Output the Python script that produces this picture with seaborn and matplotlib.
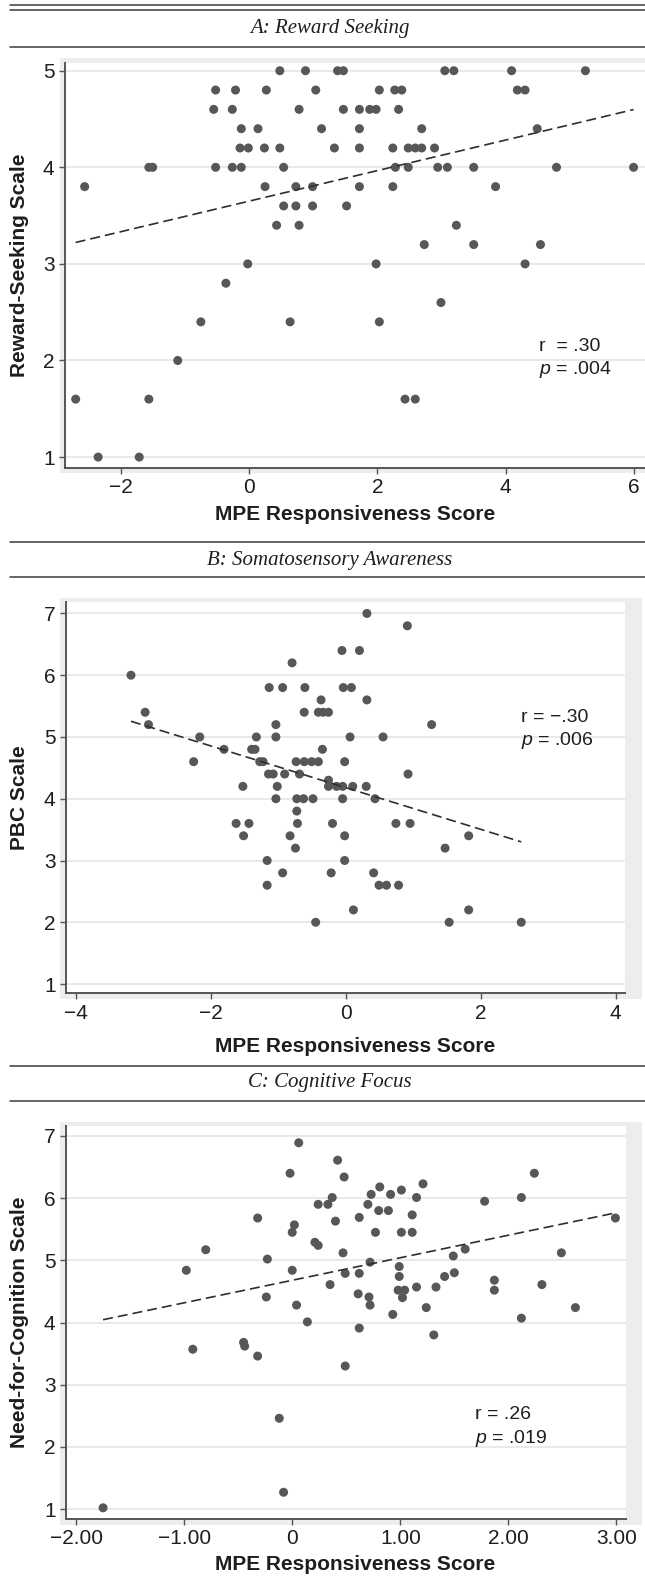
import matplotlib
matplotlib.use("Agg")
import matplotlib.pyplot as plt
import pandas as pd
import seaborn as sns
from matplotlib.lines import Line2D
from matplotlib.patches import Rectangle

# Panel A: reward seeking (one source row per line of the scale)
reward_x = [
    0.48, 0.88, 1.38, 1.47, 3.05, 3.19, 4.09, 5.24,
    -0.52, -0.21, 0.27, 1.04, 2.03, 2.27, 2.38, 4.18, 4.30,
    -0.55, -0.26, 0.78, 1.47, 1.72, 1.88, 1.98, 2.33,
    -0.12, 0.14, 1.13, 1.72, 2.69, 4.49,
    -0.14, -0.01, 0.24, 0.48, 1.33, 1.72, 2.24, 2.48, 2.59, 2.69, 2.89,
    -1.56, -1.50, -0.52, -0.26, -0.12, 0.54, 2.28, 2.48, 2.94, 3.09, 3.50, 4.79, 5.99,
    -2.56, 0.25, 0.73, 0.99, 1.72, 2.24, 3.84,
    0.54, 0.73, 0.99, 1.52,
    0.43, 0.78, 3.23,
    2.73, 3.50, 4.54,
    -0.02, 1.98, 4.30,
    -0.36,
    2.99,
    -0.75, 0.64, 2.03,
    -1.11,
    -2.70, -1.56, 2.43, 2.59,
    -2.35, -1.71,
]
reward_y = [
    5.0, 5.0, 5.0, 5.0, 5.0, 5.0, 5.0, 5.0,
    4.8, 4.8, 4.8, 4.8, 4.8, 4.8, 4.8, 4.8, 4.8,
    4.6, 4.6, 4.6, 4.6, 4.6, 4.6, 4.6, 4.6,
    4.4, 4.4, 4.4, 4.4, 4.4, 4.4,
    4.2, 4.2, 4.2, 4.2, 4.2, 4.2, 4.2, 4.2, 4.2, 4.2, 4.2,
    4.0, 4.0, 4.0, 4.0, 4.0, 4.0, 4.0, 4.0, 4.0, 4.0, 4.0, 4.0, 4.0,
    3.8, 3.8, 3.8, 3.8, 3.8, 3.8, 3.8,
    3.6, 3.6, 3.6, 3.6,
    3.4, 3.4, 3.4,
    3.2, 3.2, 3.2,
    3.0, 3.0, 3.0,
    2.8,
    2.6,
    2.4, 2.4, 2.4,
    2.0,
    1.6, 1.6, 1.6, 1.6,
    1.0, 1.0,
]

# Panel B: somatosensory awareness (PBC)
pbc_x = [
    -3.19, -2.98, -2.93, -2.17, -2.26, -1.81, -1.53, -1.63, -1.44, -1.52,
    -1.40, -1.35, -1.33, -1.28, -1.23, -1.14, -0.94, -1.04, -1.04, -1.15,
    -1.08, -0.91, -1.02, -1.04, -1.17, -1.17, -0.94, -0.80, -0.61, -0.62,
    -0.74, -0.62, -0.51, -0.41, -0.69, -0.73, -0.63, -0.49, -0.73, -0.72,
    -0.83, -0.75, -0.37, -0.41, -0.34, -0.26, -0.35, -0.26, -0.26, -0.14,
    -0.05, 0.10, -0.20, -0.22, -0.45, -0.06, 0.20, -0.04, 0.08, -0.02,
    0.06, -0.05, -0.02, -0.02, 0.11, 0.31, 0.91, 0.31, 1.27, 0.55,
    0.92, 0.30, 0.43, 0.74, 0.95, 1.82, 1.47, 0.41, 0.49, 0.60,
    0.78, 1.82, 1.53, 2.60,
]
pbc_y = [
    6.0, 5.4, 5.2, 5.0, 4.6, 4.8, 4.2, 3.6, 3.6, 3.4,
    4.8, 4.8, 5.0, 4.6, 4.6, 5.8, 5.8, 5.2, 5.0, 4.4,
    4.4, 4.4, 4.2, 4.0, 3.0, 2.6, 2.8, 6.2, 5.8, 5.4,
    4.6, 4.6, 4.6, 4.6, 4.4, 4.0, 4.0, 4.0, 3.8, 3.6,
    3.4, 3.2, 5.6, 5.4, 5.4, 5.4, 4.8, 4.3, 4.2, 4.2,
    4.2, 4.2, 3.6, 2.8, 2.0, 6.4, 6.4, 5.8, 5.8, 4.6,
    5.0, 4.0, 3.4, 3.0, 2.2, 7.0, 6.8, 5.6, 5.2, 5.0,
    4.4, 4.2, 4.0, 3.6, 3.6, 3.4, 3.2, 2.8, 2.6, 2.6,
    2.6, 2.2, 2.0, 2.0,
]

# Panel C: cognitive focus (need for cognition)
nfc_x = [
    0.06, 0.42, -0.02, 0.48, 0.37, 0.24, 0.33, -0.32, 0.02, 0.00,
    0.40, 0.62, 0.21, 0.24, -0.80, -0.23, 0.47, -0.98, 0.00, 0.49,
    0.62, 0.35, -0.24, 0.04, 0.61, 0.14, 0.62, -0.92, -0.45, -0.44,
    -0.32, 0.49, -0.12, -0.08, -1.75,
    2.24, 1.21, 0.81, 1.01, 0.73, 0.91, 1.15, 2.12, 1.78, 0.70,
    0.80, 0.89, 1.11, 0.77, 1.01, 1.11, 2.99, 0.72, 1.60, 1.49,
    2.49, 0.99, 0.99, 1.41, 1.50, 1.87, 1.87, 2.31, 0.71, 0.72,
    0.98, 1.04, 1.02, 1.15, 1.33, 1.24, 0.93, 2.12, 2.62, 1.31,
]
nfc_y = [
    6.89, 6.61, 6.40, 6.34, 6.01, 5.90, 5.90, 5.68, 5.57, 5.45,
    5.63, 5.69, 5.29, 5.24, 5.17, 5.02, 5.12, 4.84, 4.84, 4.79,
    4.79, 4.61, 4.41, 4.28, 4.46, 4.01, 3.91, 3.57, 3.68, 3.62,
    3.46, 3.30, 2.46, 1.27, 1.02,
    6.40, 6.23, 6.18, 6.13, 6.06, 6.06, 6.01, 6.01, 5.95, 5.90,
    5.80, 5.80, 5.73, 5.45, 5.45, 5.45, 5.68, 4.97, 5.18, 5.07,
    5.12, 4.90, 4.74, 4.74, 4.80, 4.68, 4.52, 4.61, 4.41, 4.28,
    4.52, 4.52, 4.40, 4.57, 4.57, 4.24, 4.13, 4.07, 4.24, 3.80,
]

panel_titles = ["A: Reward Seeking", "B: Somatosensory Awareness", "C: Cognitive Focus"]
y_labels = ["Reward-Seeking Scale", "PBC Scale", "Need-for-Cognition Scale"]
x_label = "MPE Responsiveness Score"
stats_r = ["r  = .30", "r = \u2212.30", "r = .26"]
stats_p = ["$p$ = .004", "$p$ = .006", "$p$ = .019"]
c_xticks = [-2, -1, 0, 1, 2, 3]
c_xticklabels = ["\u22122.00", "\u22121.00", "0", "1.00", "2.00", "3.00"]

sns.set_theme(style="white")
plt.rcParams["font.family"] = ["Liberation Sans", "DejaVu Sans"]
plt.rcParams["mathtext.fontset"] = "custom"
plt.rcParams["mathtext.it"] = "Liberation Sans:italic"
plt.rcParams["mathtext.rm"] = "Liberation Sans"

W, H = 645, 1587
GRAY = "#eceeed"
DOT = "#575757"
INK = "#2e2e2e"

fig = plt.figure(figsize=(W / 100, H / 100), dpi=100)
fig.patch.set_facecolor("white")


def fx(px):
    return px / W


def fy(py):
    return 1 - py / H


def rule(y):
    fig.add_artist(Line2D([fx(10), fx(645)], [fy(y), fy(y)], color="#3c3c3c", lw=1.1))


def panel(box, shade, x, y, xlim, ylim, xticks, yticks, ylabel, title, title_y,
          rules, xlabel_y, note_xy, r_txt, p_txt, xticklabels=None):
    left, top, right, bottom = box
    fig.patches.append(Rectangle((fx(shade[0]), fy(shade[3])),
                                 fx(shade[2]) - fx(shade[0]), fy(shade[1]) - fy(shade[3]),
                                 transform=fig.transFigure, facecolor=GRAY,
                                 edgecolor="none", zorder=-1))
    ax = fig.add_axes([fx(left), fy(bottom), fx(right) - fx(left), fy(top) - fy(bottom)])
    ax.set_facecolor("white")
    df = pd.DataFrame({"x": x, "y": y})
    sns.scatterplot(data=df, x="x", y="y", ax=ax, s=42, color=DOT,
                    edgecolor="none", linewidth=0, zorder=3)
    sns.regplot(data=df, x="x", y="y", ax=ax, scatter=False, ci=None, truncate=True,
                line_kws=dict(color=INK, lw=1.2, linestyle=(0, (6, 3)), zorder=4))
    ax.set_xlim(xlim)
    ax.set_ylim(ylim)
    ax.set_xticks(xticks)
    if xticklabels is not None:
        ax.set_xticklabels(xticklabels)
    ax.set_yticks(yticks)
    ax.grid(axis="y", color="#e3e3e3", lw=1.1)
    ax.grid(axis="x", visible=False)
    ax.set_axisbelow(True)
    for s in ("top", "right"):
        ax.spines[s].set_visible(False)
    for s in ("left", "bottom"):
        ax.spines[s].set_color("#555555")
        ax.spines[s].set_linewidth(1.4)
    ax.tick_params(length=4.5, width=1, color="#555555", pad=3,
                   labelsize=15, labelcolor="#1e1e1e", left=True, bottom=True)
    ax.set_xlabel(x_label, fontsize=15, fontweight="bold", color="#1e1e1e", va="center")
    ax.xaxis.set_label_coords(fx(355), fy(xlabel_y), transform=fig.transFigure)
    ax.set_ylabel(ylabel, fontsize=15, fontweight="bold", color="#1e1e1e", va="center")
    ax.yaxis.set_label_coords(fx(20), fy((top + bottom) / 2), transform=fig.transFigure)
    ax.text(note_xy[0], note_xy[1], r_txt, fontsize=14, color="#1e1e1e", va="baseline")
    ax.text(note_xy[0], note_xy[2], p_txt, fontsize=14, color="#1e1e1e", va="baseline")
    for r in rules:
        rule(r)
    fig.text(fx(330), fy(title_y), title, family="Liberation Serif", style="italic",
             fontsize=15, color="#1e1e1e", ha="center", va="center")
    return ax


panel((65, 63, 645, 467.7), (60, 58, 645, 473), reward_x, reward_y,
      (-2.866, 6.168), (0.89, 5.08), [-2, 0, 2, 4, 6], [1, 2, 3, 4, 5],
      y_labels[0], panel_titles[0], 28, [5, 9.5, 46.5], 515,
      (4.52, 2.10, 1.86), stats_r[0], stats_p[0])

panel((66, 601.7, 625, 993.3), (60, 598, 642, 999), pbc_x, pbc_y,
      (-4.154, 4.139), (0.85, 7.19), [-4, -2, 0, 2, 4], [1, 2, 3, 4, 5, 6, 7],
      y_labels[1], panel_titles[1], 560, [541.7, 576.7], 1046,
      (2.60, 5.25, 4.87), stats_r[1], stats_p[1])

panel((66, 1126, 626, 1519), (60, 1122, 642, 1525), nfc_x, nfc_y,
      (-2.093, 3.088), (0.84, 7.16), c_xticks, [1, 2, 3, 4, 5, 6, 7],
      y_labels[2], panel_titles[2], 1083, [1066, 1100.7], 1565,
      (1.69, 2.45, 2.07), stats_r[2], stats_p[2], xticklabels=c_xticklabels)

fig.savefig("out.png", dpi=100)
